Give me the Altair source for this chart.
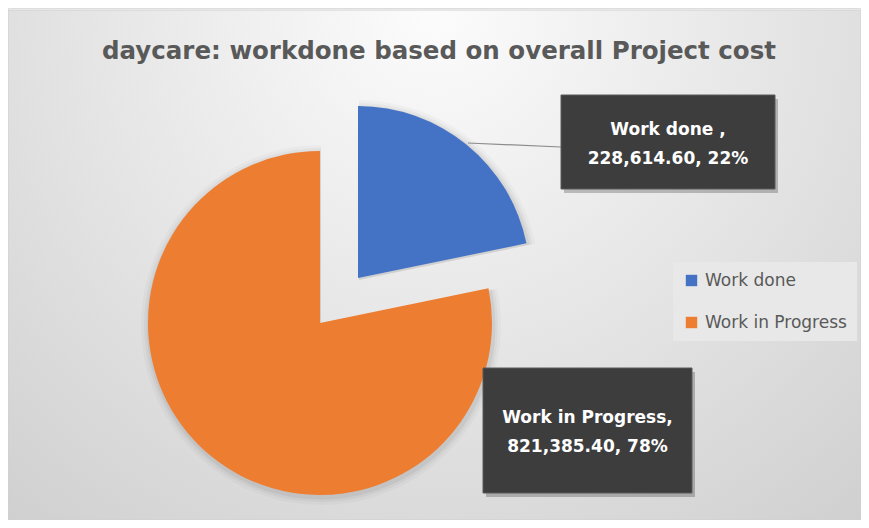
import altair as alt
import pandas as pd

# ---- data ----
categories = ["Work done", "Work in Progress"]
values = [228614.60, 821385.40]
label_heads = ["Work done ,", "Work in Progress,"]
colors = ["#4472C4", "#ED7D31"]
title_text = "daycare: workdone based on overall Project cost"

total = sum(values)
df = pd.DataFrame({
    "category": categories,
    "value": values,
    "label": [f"{h}\n{v:,.2f}, {round(v / total * 100)}%" for h, v in zip(label_heads, values)],
})

W, H = 853, 512
FONT = "DejaVu Sans"
one = alt.Data(values=[{"a": 1}])

bg = alt.Chart(one).mark_rect(
    fill={
        "gradient": "radial",
        "x1": 0.5, "y1": 0.2, "r1": 0.0,
        "x2": 0.5, "y2": 0.2, "r2": 0.95,
        "stops": [
            {"offset": 0.0, "color": "#fcfcfc"},
            {"offset": 0.45, "color": "#e4e4e4"},
            {"offset": 1.0, "color": "#c6c6c6"},
        ],
    },
    stroke="#d0d0d0", strokeWidth=1,
).encode(x=alt.value(0), x2=alt.value(W), y=alt.value(2), y2=alt.value(H))

color = alt.Color(
    "category:N",
    scale=alt.Scale(domain=categories, range=colors),
    legend=alt.Legend(
        title=None, orient="none", legendX=665, legendY=254,
        fillColor="#e8e8e8", padding=10, symbolType="square", symbolSize=130,
        symbolStrokeWidth=0, labelFont=FONT, labelFontSize=17, labelColor="#595959",
        rowPadding=24, labelOffset=5,
    ),
)
theta = alt.Theta("value:Q", stack=True)

def slice_layers(cat, cx, cy):
    show = alt.datum.category == cat
    layers = []
    # soft shadow halo beneath the slice
    for r, op in [(180, 0.025), (177, 0.035), (174.5, 0.05)]:
        layers.append(
            alt.Chart(df).mark_arc(radius=r, x=cx + 1, y=cy + 2, color="#000000").encode(
                theta=theta,
                order=alt.Order("category:N"),
                opacity=alt.condition(show, alt.value(op), alt.value(0)),
            )
        )
    layers.append(
        alt.Chart(df).mark_arc(radius=172, x=cx, y=cy).encode(
            theta=theta, color=color, order=alt.Order("category:N"),
            opacity=alt.condition(show, alt.value(1), alt.value(0)),
        )
    )
    return alt.layer(*layers)

main_slice = slice_layers("Work in Progress", 312, 315)
exploded = slice_layers("Work done", 350, 270)

leader = alt.Chart(one).mark_rule(color="#8c8c8c", strokeWidth=1.2).encode(
    x=alt.value(460), y=alt.value(135), x2=alt.value(553), y2=alt.value(139)
)

def label_box(cat, x0, x1, y0, y1, ytext):
    base = alt.Chart(df).transform_filter(alt.datum.category == cat)
    shadow = base.mark_rect(color="#000000", opacity=0.22).encode(
        x=alt.value(x0 + 3), x2=alt.value(x1 + 3), y=alt.value(y0 + 4), y2=alt.value(y1 + 4)
    )
    box = base.mark_rect(color="#3d3d3d", stroke="#5a5a5a", strokeWidth=1).encode(
        x=alt.value(x0), x2=alt.value(x1), y=alt.value(y0), y2=alt.value(y1)
    )
    txt = base.mark_text(
        font=FONT, fontSize=17, fontWeight="bold", color="#ffffff",
        lineBreak="\n", lineHeight=29, align="center", baseline="middle",
    ).encode(x=alt.value((x0 + x1) / 2), y=alt.value(ytext), text="label:N")
    return shadow + box + txt

lab1 = label_box("Work done", 553, 767, 87, 181, 122)
lab2 = label_box("Work in Progress", 475, 684, 360, 485, 410)

title = alt.Chart(one).mark_text(
    text=title_text, font=FONT, fontSize=24.5, fontWeight="bold", color="#595959",
    align="center", baseline="alphabetic",
).encode(x=alt.value(431), y=alt.value(51))

chart = alt.layer(
    bg, main_slice, exploded, leader, lab1, lab2, title
).properties(
    width=W, height=H, padding=0, autosize=alt.AutoSizeParams(type="none"),
).configure_view(stroke=None).configure(background="#ffffff")

chart.save("out.html", embed_options={"renderer": "svg", "actions": False})
